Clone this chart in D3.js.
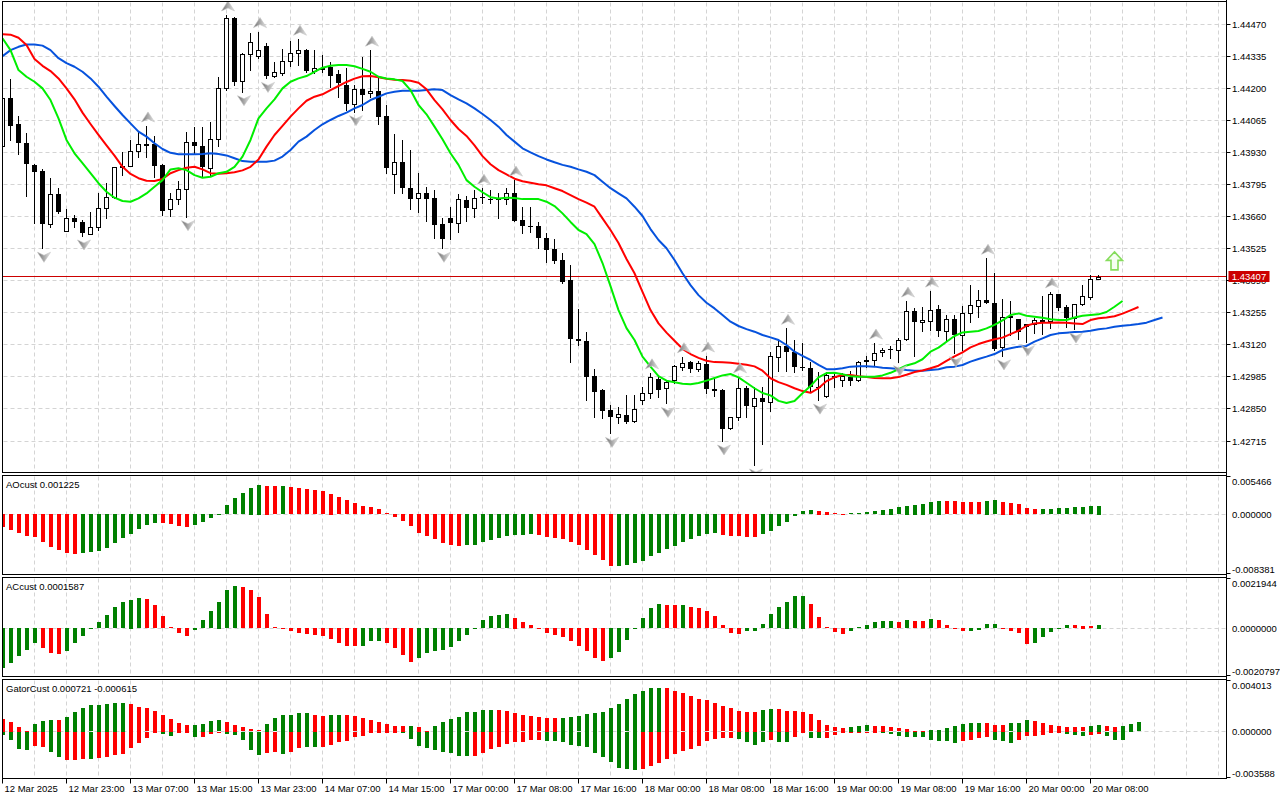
<!DOCTYPE html>
<html>
<head>
<meta charset="utf-8">
<script src="https://cdn.jsdelivr.net/npm/d3@7"></script>
<style>
  body { margin: 0; background: #fff; }
  svg { display: block; }
  text { font-family: "Liberation Sans", Arial, sans-serif; font-size: 9.5px; fill: #000; }
</style>
</head>
<body>
<div id="chart"></div>
<script>
// H1 candles, 12 Mar 2025 15:00 .. 20 Mar 2025, [open, high, low, close]
const ohlc = [
  [1.43956, 1.44167, 1.43952, 1.44158], [1.44157, 1.44238, 1.43982, 1.44042], [1.44048, 1.44084, 1.43923, 1.43968],
  [1.43968, 1.44010, 1.43747, 1.43880], [1.43877, 1.43881, 1.43631, 1.43848], [1.43851, 1.43858, 1.43526, 1.43627],
  [1.43627, 1.43821, 1.43617, 1.43753], [1.43753, 1.43779, 1.43675, 1.43677], [1.43599, 1.43691, 1.43599, 1.43655],
  [1.43652, 1.43666, 1.43617, 1.43635], [1.43635, 1.43645, 1.43578, 1.43589], [1.43588, 1.43677, 1.43586, 1.43617],
  [1.43617, 1.43757, 1.43603, 1.43694], [1.43694, 1.43800, 1.43652, 1.43741], [1.43741, 1.43867, 1.43736, 1.43867],
  [1.43874, 1.43933, 1.43834, 1.43865], [1.43872, 1.43982, 1.43872, 1.43937], [1.43937, 1.44017, 1.43912, 1.43964],
  [1.43961, 1.44041, 1.43912, 1.43965], [1.43964, 1.44000, 1.43827, 1.43874], [1.43877, 1.43881, 1.43666, 1.43683],
  [1.43690, 1.43757, 1.43664, 1.43732], [1.43732, 1.43809, 1.43711, 1.43774], [1.43774, 1.44014, 1.43659, 1.43972],
  [1.43972, 1.44038, 1.43926, 1.43956], [1.43956, 1.44038, 1.43831, 1.43867], [1.43863, 1.44056, 1.43831, 1.43985],
  [1.43985, 1.44248, 1.43956, 1.44199], [1.44199, 1.44508, 1.44192, 1.44494], [1.44494, 1.44501, 1.44213, 1.44227],
  [1.44230, 1.44348, 1.44185, 1.44342], [1.44342, 1.44431, 1.44276, 1.44395], [1.44335, 1.44438, 1.44327, 1.44360],
  [1.44377, 1.44391, 1.44241, 1.44252], [1.44252, 1.44309, 1.44246, 1.44267], [1.44262, 1.44365, 1.44255, 1.44314],
  [1.44314, 1.44398, 1.44294, 1.44349], [1.44347, 1.44406, 1.44297, 1.44360], [1.44360, 1.44365, 1.44269, 1.44272],
  [1.44272, 1.44360, 1.44265, 1.44283], [1.44281, 1.44340, 1.44268, 1.44285], [1.44288, 1.44311, 1.44206, 1.44252],
  [1.44260, 1.44276, 1.44164, 1.44220], [1.44213, 1.44283, 1.44108, 1.44132], [1.44132, 1.44213, 1.44101, 1.44195],
  [1.44195, 1.44332, 1.44108, 1.44171], [1.44181, 1.44360, 1.44164, 1.44188], [1.44188, 1.44241, 1.44049, 1.44080],
  [1.44083, 1.44129, 1.43842, 1.43865], [1.43837, 1.44007, 1.43757, 1.43890], [1.43890, 1.43982, 1.43760, 1.43779],
  [1.43779, 1.43940, 1.43691, 1.43732], [1.43736, 1.43842, 1.43680, 1.43757], [1.43757, 1.43785, 1.43641, 1.43732],
  [1.43736, 1.43771, 1.43568, 1.43624], [1.43627, 1.43652, 1.43526, 1.43565], [1.43652, 1.43701, 1.43565, 1.43631],
  [1.43631, 1.43753, 1.43593, 1.43732], [1.43729, 1.43746, 1.43642, 1.43694], [1.43694, 1.43771, 1.43659, 1.43736],
  [1.43743, 1.43779, 1.43715, 1.43736], [1.43733, 1.43771, 1.43715, 1.43733], [1.43736, 1.43760, 1.43652, 1.43729],
  [1.43732, 1.43781, 1.43712, 1.43757], [1.43757, 1.43813, 1.43642, 1.43642], [1.43645, 1.43701, 1.43589, 1.43621],
  [1.43621, 1.43701, 1.43596, 1.43621], [1.43620, 1.43638, 1.43526, 1.43568], [1.43568, 1.43589, 1.43467, 1.43519],
  [1.43523, 1.43564, 1.43464, 1.43474], [1.43477, 1.43505, 1.43379, 1.43385], [1.43392, 1.43456, 1.43049, 1.43143],
  [1.43144, 1.43270, 1.43119, 1.43136], [1.43136, 1.43172, 1.42887, 1.42985], [1.42988, 1.43017, 1.42815, 1.42922],
  [1.42929, 1.42932, 1.42813, 1.42841], [1.42845, 1.42866, 1.42747, 1.42817], [1.42817, 1.42857, 1.42792, 1.42828],
  [1.42824, 1.42908, 1.42789, 1.42796], [1.42800, 1.42908, 1.42797, 1.42850], [1.42887, 1.42943, 1.42869, 1.42918],
  [1.42916, 1.43002, 1.42897, 1.42985], [1.42975, 1.42985, 1.42901, 1.42929], [1.42937, 1.42972, 1.42873, 1.42964],
  [1.42972, 1.43035, 1.42958, 1.43031], [1.43028, 1.43070, 1.43014, 1.43044], [1.43046, 1.43053, 1.43007, 1.43017],
  [1.43017, 1.43053, 1.43011, 1.43044], [1.43039, 1.43073, 1.42918, 1.42932], [1.42934, 1.42979, 1.42905, 1.42927],
  [1.42929, 1.42932, 1.42715, 1.42765], [1.42768, 1.42817, 1.42765, 1.42815], [1.42815, 1.42985, 1.42803, 1.42937],
  [1.42937, 1.42946, 1.42817, 1.42863], [1.42863, 1.42943, 1.42614, 1.42895], [1.42895, 1.42943, 1.42701, 1.42880],
  [1.42880, 1.43091, 1.42841, 1.43073], [1.43070, 1.43140, 1.43009, 1.43115], [1.43115, 1.43189, 1.43011, 1.43088],
  [1.43088, 1.43140, 1.43007, 1.43025], [1.43028, 1.43129, 1.43014, 1.43021], [1.43023, 1.43049, 1.42922, 1.42943],
  [1.42943, 1.43007, 1.42887, 1.42938], [1.42905, 1.43007, 1.42901, 1.42993], [1.42990, 1.43007, 1.42943, 1.42981],
  [1.42972, 1.43000, 1.42948, 1.42990], [1.42985, 1.43011, 1.42951, 1.42969], [1.42972, 1.43052, 1.42969, 1.43049],
  [1.43056, 1.43074, 1.43028, 1.43049], [1.43056, 1.43127, 1.43035, 1.43086], [1.43088, 1.43108, 1.43073, 1.43098],
  [1.43102, 1.43115, 1.43065, 1.43102], [1.43098, 1.43150, 1.43049, 1.43140], [1.43143, 1.43304, 1.43140, 1.43262],
  [1.43262, 1.43276, 1.43074, 1.43214], [1.43214, 1.43280, 1.43179, 1.43224], [1.43221, 1.43346, 1.43182, 1.43266],
  [1.43270, 1.43287, 1.43157, 1.43179], [1.43179, 1.43245, 1.43137, 1.43227], [1.43227, 1.43245, 1.43086, 1.43161],
  [1.43161, 1.43283, 1.43098, 1.43252], [1.43252, 1.43371, 1.43217, 1.43287], [1.43284, 1.43350, 1.43235, 1.43308],
  [1.43308, 1.43484, 1.43294, 1.43294], [1.43297, 1.43421, 1.43098, 1.43101], [1.43109, 1.43311, 1.43073, 1.43235],
  [1.43241, 1.43305, 1.43161, 1.43231], [1.43227, 1.43227, 1.43144, 1.43175], [1.43206, 1.43206, 1.43133, 1.43196],
  [1.43206, 1.43231, 1.43171, 1.43224], [1.43224, 1.43325, 1.43165, 1.43214], [1.43221, 1.43343, 1.43189, 1.43334],
  [1.43334, 1.43334, 1.43266, 1.43276], [1.43278, 1.43287, 1.43196, 1.43234], [1.43234, 1.43291, 1.43186, 1.43291],
  [1.43291, 1.43371, 1.43287, 1.43325], [1.43322, 1.43414, 1.43311, 1.43395], [1.43395, 1.43414, 1.43395, 1.43407]
]

// Alligator lines (jaw shifted 8 bars, teeth 5, lips 3 into the future)
const jaw = [
  1.44335, 1.44360, 1.44374, 1.44384, 1.44384, 1.44379, 1.44360, 1.44326, 1.44305, 1.44290,
  1.44269, 1.44241, 1.44206, 1.44164, 1.44125, 1.44087, 1.44052, 1.44017, 1.43996, 1.43968,
  1.43944, 1.43928, 1.43922, 1.43922, 1.43922, 1.43923, 1.43926, 1.43923, 1.43917, 1.43905,
  1.43893, 1.43890, 1.43890, 1.43890, 1.43895, 1.43912, 1.43940, 1.43975, 1.43996, 1.44024,
  1.44048, 1.44066, 1.44083, 1.44097, 1.44115, 1.44129, 1.44150, 1.44164, 1.44178, 1.44185,
  1.44189, 1.44189, 1.44189, 1.44192, 1.44195, 1.44192, 1.44171, 1.44153, 1.44136, 1.44115,
  1.44091, 1.44066, 1.44038, 1.44003, 1.43975, 1.43947, 1.43930, 1.43914, 1.43900, 1.43888,
  1.43877, 1.43869, 1.43858, 1.43848, 1.43834, 1.43806, 1.43779, 1.43757, 1.43736, 1.43701,
  1.43662, 1.43607, 1.43561, 1.43526, 1.43477, 1.43421, 1.43371, 1.43329, 1.43297, 1.43273,
  1.43245, 1.43217, 1.43199, 1.43186, 1.43175, 1.43161, 1.43151, 1.43140, 1.43119, 1.43091,
  1.43073, 1.43056, 1.43035, 1.43017, 1.43017, 1.43021, 1.43028, 1.43030, 1.43030, 1.43028,
  1.43023, 1.43021, 1.43018, 1.43014, 1.43011, 1.43011, 1.43014, 1.43017, 1.43025, 1.43028,
  1.43035, 1.43049, 1.43060, 1.43070, 1.43081, 1.43098, 1.43105, 1.43112, 1.43115, 1.43133,
  1.43147, 1.43161, 1.43168, 1.43171, 1.43174, 1.43175, 1.43179, 1.43185, 1.43189, 1.43196,
  1.43200, 1.43203, 1.43207, 1.43213, 1.43224, 1.43235
]
const teeth = [
  1.44427, 1.44425, 1.44412, 1.44382, 1.44323, 1.44294, 1.44272, 1.44241, 1.44199, 1.44153,
  1.44097, 1.44049, 1.44003, 1.43959, 1.43916, 1.43869, 1.43839, 1.43821, 1.43810, 1.43809,
  1.43818, 1.43842, 1.43855, 1.43865, 1.43869, 1.43858, 1.43842, 1.43840, 1.43842, 1.43846,
  1.43854, 1.43869, 1.43900, 1.43954, 1.44003, 1.44041, 1.44080, 1.44115, 1.44147, 1.44164,
  1.44174, 1.44192, 1.44209, 1.44226, 1.44240, 1.44250, 1.44251, 1.44246, 1.44240, 1.44235,
  1.44234, 1.44231, 1.44223, 1.44195, 1.44150, 1.44111, 1.44066, 1.44028, 1.43999, 1.43959,
  1.43914, 1.43880, 1.43855, 1.43837, 1.43819, 1.43808, 1.43802, 1.43796, 1.43791, 1.43779,
  1.43767, 1.43750, 1.43733, 1.43718, 1.43701, 1.43652, 1.43603, 1.43548, 1.43481, 1.43421,
  1.43343, 1.43266, 1.43210, 1.43171, 1.43137, 1.43103, 1.43081, 1.43065, 1.43053, 1.43047,
  1.43046, 1.43044, 1.43040, 1.43036, 1.43029, 1.43011, 1.42979, 1.42963, 1.42951, 1.42937,
  1.42925, 1.42918, 1.42937, 1.42967, 1.42983, 1.42993, 1.42993, 1.42988, 1.42984, 1.42980,
  1.42979, 1.42979, 1.42984, 1.42994, 1.43005, 1.43012, 1.43021, 1.43032, 1.43052, 1.43071,
  1.43088, 1.43109, 1.43123, 1.43134, 1.43143, 1.43150, 1.43165, 1.43179, 1.43200, 1.43210,
  1.43213, 1.43213, 1.43214, 1.43213, 1.43210, 1.43207, 1.43224, 1.43232, 1.43235, 1.43240,
  1.43251, 1.43265, 1.43279
]
const lips = [
  1.44410, 1.44360, 1.44276, 1.44248, 1.44227, 1.44199, 1.44150, 1.44073, 1.43982, 1.43926,
  1.43884, 1.43842, 1.43800, 1.43764, 1.43739, 1.43725, 1.43722, 1.43736, 1.43757, 1.43785,
  1.43813, 1.43858, 1.43863, 1.43855, 1.43834, 1.43823, 1.43827, 1.43842, 1.43848, 1.43869,
  1.43912, 1.43982, 1.44073, 1.44115, 1.44153, 1.44199, 1.44227, 1.44241, 1.44251, 1.44269,
  1.44286, 1.44294, 1.44297, 1.44297, 1.44292, 1.44281, 1.44269, 1.44248, 1.44241, 1.44237,
  1.44230, 1.44192, 1.44129, 1.44090, 1.44038, 1.43985, 1.43926, 1.43877, 1.43813, 1.43785,
  1.43762, 1.43741, 1.43736, 1.43739, 1.43738, 1.43733, 1.43733, 1.43733, 1.43722, 1.43704,
  1.43673, 1.43637, 1.43603, 1.43586, 1.43544, 1.43464, 1.43367, 1.43266, 1.43190, 1.43140,
  1.43070, 1.43028, 1.42988, 1.42969, 1.42962, 1.42956, 1.42954, 1.42959, 1.42969, 1.42980,
  1.42991, 1.42997, 1.42983, 1.42960, 1.42937, 1.42917, 1.42907, 1.42884, 1.42875, 1.42883,
  1.42916, 1.42946, 1.42983, 1.43001, 1.43002, 1.42996, 1.42988, 1.42985, 1.42985, 1.42985,
  1.42991, 1.43002, 1.43017, 1.43033, 1.43042, 1.43059, 1.43091, 1.43108, 1.43133, 1.43157,
  1.43172, 1.43175, 1.43178, 1.43189, 1.43204, 1.43223, 1.43245, 1.43252, 1.43242, 1.43238,
  1.43234, 1.43227, 1.43224, 1.43224, 1.43235, 1.43242, 1.43245, 1.43248, 1.43258, 1.43280,
  1.43304
]

// bar indices carrying a fractal arrow
const fractalUp = [18, 28, 32, 37, 46, 60, 64, 81, 85, 88, 92, 98, 109, 113, 116, 123, 131]
const fractalDown = [5, 10, 23, 30, 33, 44, 55, 76, 83, 90, 94, 102, 112, 119, 125, 128, 134]
const signalUp = [{ index: 139, price: 1.43435 }]
const lastPrice = 1.43407

const ao = [
  -0.001814, -0.002285, -0.002713, -0.003099, -0.003242, -0.003956, -0.004670, -0.005098, -0.005569, -0.005669,
  -0.005612, -0.005469, -0.005241, -0.004812, -0.004098, -0.003384, -0.002813, -0.002099, -0.001528, -0.001242,
  -0.001285, -0.001428, -0.001671, -0.001814, -0.001528, -0.001100, -0.000528, 0.000100, 0.001285, 0.002328,
  0.002999, 0.003813, 0.004241, 0.004098, 0.003998, 0.004027, 0.003856, 0.003713, 0.003570, 0.003470,
  0.003284, 0.002956, 0.002470, 0.002042, 0.001614, 0.001185, 0.001042, 0.000757, 0.000143, -0.000386,
  -0.001042, -0.001756, -0.002670, -0.003099, -0.003570, -0.004141, -0.004427, -0.004527, -0.004470, -0.004384,
  -0.003956, -0.003670, -0.003384, -0.003142, -0.003042, -0.002956, -0.002856, -0.002999, -0.003242, -0.003384,
  -0.003527, -0.003956, -0.004427, -0.005141, -0.005812, -0.006526, -0.007468, -0.007383, -0.007326, -0.007040,
  -0.006669, -0.005955, -0.005569, -0.004998, -0.004527, -0.003956, -0.003527, -0.003142, -0.002856, -0.002713,
  -0.002999, -0.003142, -0.003184, -0.003242, -0.003284, -0.002899, -0.002385, -0.001671, -0.001100, -0.000243,
  0.000471, 0.000571, 0.000528, 0.000386, 0.000214, 0.000100, 0.000129, 0.000186, 0.000286, 0.000471,
  0.000671, 0.000814, 0.001000, 0.001242, 0.001385, 0.001528, 0.001756, 0.001956, 0.001899, 0.001871,
  0.001756, 0.001714, 0.001685, 0.001956, 0.001999, 0.001814, 0.001671, 0.001428, 0.000857, 0.000757,
  0.000771, 0.000785, 0.000857, 0.000900, 0.001000, 0.001028, 0.001142, 0.001225
]
const ac = [
  -0.001732, -0.001529, -0.001220, -0.000956, -0.000648, -0.000868, -0.001088, -0.001132, -0.001000, -0.000674,
  -0.000339, -0.000031, 0.000264, 0.000573, 0.000925, 0.001146, 0.001247, 0.001322, 0.001265, 0.001013,
  0.000529, 0.000044, -0.000234, -0.000339, -0.000075, 0.000366, 0.000749, 0.001159, 0.001674, 0.001851,
  0.001806, 0.001674, 0.001366, 0.000617, 0.000044, -0.000057, -0.000145, -0.000234, -0.000278, -0.000295,
  -0.000339, -0.000471, -0.000674, -0.000780, -0.000806, -0.000780, -0.000586, -0.000560, -0.000674, -0.000894,
  -0.001176, -0.001467, -0.001309, -0.001102, -0.001000, -0.000969, -0.000824, -0.000586, -0.000308, -0.000031,
  0.000352, 0.000542, 0.000586, 0.000617, 0.000471, 0.000278, 0.000132, 0.000031, -0.000207, -0.000295,
  -0.000383, -0.000586, -0.000793, -0.001000, -0.001309, -0.001441, -0.001309, -0.001057, -0.000516, -0.000031,
  0.000441, 0.000881, 0.001057, 0.001013, 0.001005, 0.001022, 0.000925, 0.000881, 0.000749, 0.000529,
  0.000132, -0.000207, -0.000264, -0.000145, -0.000119, 0.000176, 0.000617, 0.000925, 0.001159, 0.001410,
  0.001419, 0.001057, 0.000485, 0.000044, -0.000189, -0.000264, -0.000119, 0.000044, 0.000163, 0.000264,
  0.000308, 0.000317, 0.000278, 0.000352, 0.000308, 0.000300, 0.000397, 0.000352, 0.000145, -0.000031,
  -0.000145, -0.000141, -0.000075, 0.000176, 0.000185, 0.000031, -0.000145, -0.000234, -0.000705, -0.000661,
  -0.000410, -0.000163, -0.000031, 0.000132, 0.000128, 0.000119, 0.000088, 0.0001587
]
const gatorUp = [
  0.000986, 0.000776, 0.000365, 0.000078, 0.000621, 0.000830, 0.000908, 0.000900, 0.001164, 0.001552,
  0.001839, 0.002041, 0.002072, 0.002173, 0.002227, 0.002235, 0.002173, 0.001940, 0.001808, 0.001606,
  0.001319, 0.001009, 0.000675, 0.000520, 0.000528, 0.000621, 0.000854, 0.000877, 0.000776, 0.000520,
  0.000334, 0.000178, 0.000101, 0.000621, 0.001032, 0.001319, 0.001327, 0.001474, 0.001482, 0.001319,
  0.001242, 0.001296, 0.001319, 0.001311, 0.001187, 0.001063, 0.000908, 0.000753, 0.000621, 0.000442,
  0.000435, 0.000442, 0.000388, 0.000078, 0.000442, 0.000776, 0.001009, 0.001164, 0.001498, 0.001552,
  0.001707, 0.001715, 0.001707, 0.001606, 0.001451, 0.001265, 0.001218, 0.001110, 0.001063, 0.001055,
  0.001063, 0.001141, 0.001187, 0.001374, 0.001474, 0.001529, 0.001839, 0.002150, 0.002506, 0.002926,
  0.003158, 0.003391, 0.003399, 0.003391, 0.003158, 0.002972, 0.002770, 0.002561, 0.002429, 0.002227,
  0.001963, 0.001808, 0.001606, 0.001529, 0.001521, 0.001653, 0.001762, 0.001754, 0.001606, 0.001599,
  0.001529, 0.001342, 0.000908, 0.000489, 0.000334, 0.000287, 0.000365, 0.000442, 0.000489, 0.000481,
  0.000442, 0.000334, 0.000256, 0.000210, 0.000078, 0.000070, 0.000132, 0.000155, 0.000287, 0.000442,
  0.000598, 0.000675, 0.000683, 0.000675, 0.000520, 0.000512, 0.000644, 0.000698, 0.000908, 0.000854,
  0.000698, 0.000543, 0.000442, 0.000365, 0.000357, 0.000334, 0.000442, 0.000520, 0.000411, 0.000365,
  0.000466, 0.000598, 0.000721
]
const gatorDown = [
  -0.000233, -0.000621, -0.001319, -0.001397, -0.001086, -0.001187, -0.001552, -0.001940, -0.002173, -0.002173,
  -0.002095, -0.002095, -0.002041, -0.001940, -0.001785, -0.001684, -0.001265, -0.000854, -0.000489, -0.000023,
  -0.000155, -0.000310, -0.000101, -0.000054, -0.000388, -0.000388, -0.000132, -0.000054, -0.000132, -0.000233,
  -0.000621, -0.001397, -0.001785, -0.001630, -0.001575, -0.001707, -0.001552, -0.001242, -0.001187, -0.001187,
  -0.001164, -0.001009, -0.000776, -0.000675, -0.000411, -0.000287, -0.000101, -0.000101, -0.000078, -0.000054,
  -0.000101, -0.000543, -0.001086, -0.001265, -0.001420, -0.001552, -0.001653, -0.001862, -0.001862, -0.001862,
  -0.001606, -0.001342, -0.001187, -0.000931, -0.000776, -0.000776, -0.000621, -0.000598, -0.000698, -0.000698,
  -0.000799, -0.001009, -0.001086, -0.001187, -0.001653, -0.001963, -0.002351, -0.002817, -0.002848, -0.002949,
  -0.002871, -0.002662, -0.002429, -0.002118, -0.001730, -0.001451, -0.001342, -0.001110, -0.000698, -0.000566,
  -0.000489, -0.000489, -0.000566, -0.000776, -0.001009, -0.000799, -0.000644, -0.000776, -0.000776, -0.000388,
  -0.000039, -0.000442, -0.000466, -0.000466, -0.000233, -0.000054, -0.000054, -0.000078, -0.000054, -0.000023,
  -0.000078, -0.000155, -0.000310, -0.000388, -0.000388, -0.000388, -0.000621, -0.000698, -0.000698, -0.000854,
  -0.000698, -0.000621, -0.000489, -0.000411, -0.000644, -0.000675, -0.000830, -0.000644, -0.000310, -0.000287,
  -0.000233, -0.000101, -0.000078, -0.000155, -0.000233, -0.000334, -0.000233, -0.000132, -0.000310, -0.000621,
  -0.000615
]
// colour runs of the gator histogram: [count, 'g' | 'r']
const gatorUpRuns = [
  [4, 'r'], [3, 'g'], [1, 'r'], [8, 'g'], [8, 'r'], [4, 'g'], [5, 'r'], [6, 'g'], [2, 'r'], [2, 'g'],
  [8, 'r'], [1, 'g'], [2, 'r'], [8, 'g'], [8, 'r'], [13, 'g'], [12, 'r'], [2, 'g'], [9, 'r'], [3, 'g'],
  [7, 'r'], [7, 'g'], [3, 'r'], [3, 'g'], [7, 'r'], [2, 'g'], [2, 'r'], [3, 'g']
]
const gatorDownRuns = [
  [4, 'g'], [2, 'r'], [2, 'g'], [3, 'r'], [1, 'g'], [8, 'r'], [2, 'g'], [2, 'r'], [1, 'g'], [3, 'r'],
  [5, 'g'], [2, 'r'], [1, 'g'], [2, 'r'], [2, 'g'], [10, 'r'], [9, 'g'], [9, 'r'], [12, 'g'], [12, 'r'],
  [4, 'g'], [1, 'r'], [2, 'g'], [2, 'r'], [2, 'g'], [7, 'r'], [10, 'g'], [4, 'r'], [3, 'g'], [6, 'r'],
  [3, 'g'], [2, 'r'], [3, 'g']
]

const priceTicks = [1.44470, 1.44335, 1.44200, 1.44065, 1.43930, 1.43795, 1.43660, 1.43525,
  1.43390, 1.43255, 1.43120, 1.42985, 1.42850, 1.42715]
const timeTickIndex = [0, 8, 16, 24, 32, 40, 48, 56, 64, 72, 80, 88, 96, 104, 112, 120, 128, 136]
const timeTickLabels = ['12 Mar 2025', '12 Mar 23:00', '13 Mar 07:00', '13 Mar 15:00', '13 Mar 23:00',
  '14 Mar 07:00', '14 Mar 15:00', '17 Mar 00:00', '17 Mar 08:00', '17 Mar 16:00', '18 Mar 00:00',
  '18 Mar 08:00', '18 Mar 16:00', '19 Mar 00:00', '19 Mar 08:00', '19 Mar 16:00', '20 Mar 00:00', '20 Mar 08:00']

const GREEN = '#008000'
const RED = '#ff0000'
const GRID = '#d4d4d4'

const width = 1280
const height = 800
const left = 2.5
const right = 1226.5

const panels = {
  main: { top: 1.5, bottom: 472.5 },
  ao: { top: 475.5, bottom: 574.5 },
  ac: { top: 577.5, bottom: 676.5 },
  gator: { top: 679.5, bottom: 778.5 }
}

// one bar = 8px, bar 0 sits on the left border
const x = d3.scaleLinear().domain([0, 1]).range([2.5, 10.5])
const yMain = d3.scaleLinear().domain([1.42715, 1.44470]).range([441, 24])
const yAO = d3.scaleLinear().domain([-0.008381, 0.005466]).range([573, 476])
const yAC = d3.scaleLinear().domain([-0.0020797, 0.0021944]).range([676, 578])
const yGator = d3.scaleLinear().domain([-0.003588, 0.004013]).range([778, 680])

const crisp = v => Math.round(v - 0.5) + 0.5
const expandRuns = runs => runs.flatMap(([n, c]) => Array(n).fill(c))
// AO / AC: green when the bar is above the previous one
const risingColors = (values, first) => values.map((v, i) => i === 0 ? first : (v > values[i - 1] ? 'g' : 'r'))

const svg = d3.select('#chart').append('svg')
  .attr('width', width)
  .attr('height', height)
  .attr('viewBox', [0, 0, width, height].join(' '))

svg.append('rect').attr('width', width).attr('height', height).attr('fill', '#fff')

const defs = svg.append('defs')
Object.entries(panels).forEach(([key, p]) => {
  defs.append('clipPath').attr('id', `clip-${key}`)
    .append('rect')
    .attr('x', left + 0.5).attr('y', p.top + 0.5)
    .attr('width', right - left - 1).attr('height', p.bottom - p.top - 1)
})
const grad = defs.append('linearGradient').attr('id', 'fractal-fill')
grad.append('stop').attr('offset', '0%').attr('stop-color', '#6f6f6f')
grad.append('stop').attr('offset', '50%').attr('stop-color', '#a9a9a9')
grad.append('stop').attr('offset', '100%').attr('stop-color', '#e6e6e6')

// vertical grid in every panel
const gridX = d3.range(4, 153, 4).map(i => x(i)).filter(v => v < right - 2)
Object.values(panels).forEach(p => {
  svg.append('g')
    .selectAll('line')
    .data(gridX)
    .join('line')
    .attr('x1', d => d).attr('x2', d => d)
    .attr('y1', p.top + 1).attr('y2', p.bottom)
    .attr('stroke', GRID)
    .attr('stroke-dasharray', '4,3')
})

// horizontal grid of the price panel
svg.append('g')
  .selectAll('line')
  .data(priceTicks)
  .join('line')
  .attr('x1', left + 1).attr('x2', right)
  .attr('y1', d => crisp(yMain(d))).attr('y2', d => crisp(yMain(d)))
  .attr('stroke', GRID)
  .attr('stroke-dasharray', '4,3')

// ---------- price panel ----------
const main = svg.append('g').attr('clip-path', 'url(#clip-main)')

main.append('line')
  .attr('x1', left).attr('x2', right)
  .attr('y1', crisp(yMain(lastPrice))).attr('y2', crisp(yMain(lastPrice)))
  .attr('stroke', '#cc0000')

main.append('g')
  .selectAll('line')
  .data(ohlc)
  .join('line')
  .attr('x1', (d, i) => x(i)).attr('x2', (d, i) => x(i))
  .attr('y1', d => Math.round(yMain(d[1]))).attr('y2', d => Math.round(yMain(d[2])) + 1)
  .attr('stroke', '#000')

main.append('g')
  .selectAll('rect')
  .data(ohlc)
  .join('rect')
  .each(function (d, i) {
    const [o, , , c] = d
    const top = Math.round(yMain(Math.max(o, c)))
    const bottom = Math.round(yMain(Math.min(o, c)))
    const body = d3.select(this)
    if (c > o) {
      body.attr('x', x(i) - 2).attr('y', top + 0.5)
        .attr('width', 4).attr('height', Math.max(bottom - top, 1))
        .attr('fill', '#fff').attr('stroke', '#000')
    } else {
      body.attr('x', x(i) - 2.5).attr('y', top)
        .attr('width', 5).attr('height', Math.max(bottom - top, 1))
        .attr('fill', '#000')
    }
  })

const alligator = [
  { values: jaw, color: '#0652dd' },
  { values: teeth, color: '#ff0000' },
  { values: lips, color: '#00ee00' }
]
const priceLine = d3.line().x((d, i) => x(i)).y(d => yMain(d))
main.append('g')
  .selectAll('path')
  .data(alligator)
  .join('path')
  .attr('d', d => priceLine(d.values))
  .attr('fill', 'none')
  .attr('stroke', d => d.color)
  .attr('stroke-width', 2)
  .attr('stroke-linejoin', 'round')

main.append('g')
  .selectAll('path')
  .data(fractalUp)
  .join('path')
  .attr('transform', i => `translate(${x(i) + 1.5},${yMain(ohlc[i][1]) - 9})`)
  .attr('d', 'M0,-5L6.5,5L0,2L-6.5,5Z')
  .attr('fill', 'url(#fractal-fill)')
  .attr('stroke', '#c4c4c4')
  .attr('stroke-width', 0.6)

main.append('g')
  .selectAll('path')
  .data(fractalDown)
  .join('path')
  .attr('transform', i => `translate(${x(i) + 1.5},${yMain(ohlc[i][2]) + 9})`)
  .attr('d', 'M0,5L6.5,-5L0,-2L-6.5,-5Z')
  .attr('fill', 'url(#fractal-fill)')
  .attr('stroke', '#c4c4c4')
  .attr('stroke-width', 0.6)

main.append('g')
  .selectAll('path')
  .data(signalUp)
  .join('path')
  .attr('transform', d => `translate(${x(d.index)},${yMain(d.price)})`)
  .attr('d', 'M0,-18L8,-9.5L3.5,-9.5L3.5,0L-3.5,0L-3.5,-9.5L-8,-9.5Z')
  .attr('fill', '#f6fff2')
  .attr('stroke', '#86dd5c')
  .attr('stroke-width', 1.6)
  .attr('stroke-linejoin', 'miter')

// ---------- indicator panels ----------
function histogram(key, scale, series) {
  const g = svg.append('g').attr('clip-path', `url(#clip-${key})`)
  const zero = scale(0)
  g.append('line')
    .attr('x1', left + 1).attr('x2', right)
    .attr('y1', crisp(zero)).attr('y2', crisp(zero))
    .attr('stroke', GRID)
    .attr('stroke-dasharray', '4,3')
  series.forEach(({ values, colors }) => {
    g.append('g')
      .selectAll('rect')
      .data(values)
      .join('rect')
      .attr('x', (d, i) => x(i) - 1.5)
      .attr('width', 4)
      .attr('y', d => Math.round(Math.min(scale(d), zero)))
      .attr('height', d => Math.max(1, Math.round(Math.abs(scale(d) - zero))))
      .attr('fill', (d, i) => colors[i] === 'g' ? GREEN : RED)
  })
}

histogram('ao', yAO, [{ values: ao, colors: risingColors(ao, 'r') }])
histogram('ac', yAC, [{ values: ac, colors: risingColors(ac, 'g') }])
histogram('gator', yGator, [
  { values: gatorUp, colors: expandRuns(gatorUpRuns) },
  { values: gatorDown, colors: expandRuns(gatorDownRuns) }
])

// ---------- frames ----------
Object.values(panels).forEach(p => {
  svg.append('rect')
    .attr('x', left).attr('y', p.top)
    .attr('width', right - left).attr('height', p.bottom - p.top)
    .attr('fill', 'none')
    .attr('stroke', '#000')
})
svg.append('line')
  .attr('x1', right).attr('x2', right)
  .attr('y1', 0).attr('y2', panels.gator.bottom)
  .attr('stroke', '#000')

// ---------- price axis ----------
const priceAxis = svg.append('g')
priceAxis.selectAll('line')
  .data(priceTicks)
  .join('line')
  .attr('x1', right).attr('x2', right + 4)
  .attr('y1', d => crisp(yMain(d))).attr('y2', d => crisp(yMain(d)))
  .attr('stroke', '#000')
priceAxis.selectAll('text')
  .data(priceTicks)
  .join('text')
  .attr('x', 1232)
  .attr('y', d => yMain(d) + 3.5)
  .text(d => d.toFixed(5))

const lastY = crisp(yMain(lastPrice))
svg.append('rect')
  .attr('x', 1228.5).attr('y', lastY - 5.5)
  .attr('width', 41).attr('height', 11)
  .attr('fill', '#cc0000')
svg.append('text')
  .attr('x', 1249).attr('y', lastY + 3.5)
  .attr('text-anchor', 'middle')
  .style('fill', '#fff')
  .text(lastPrice.toFixed(5))

// ---------- indicator titles and scales ----------
const subPanels = [
  { p: panels.ao, scale: yAO, digits: 6, title: `AOcust ${ao[ao.length - 1].toFixed(6)}` },
  { p: panels.ac, scale: yAC, digits: 7, title: `ACcust ${ac[ac.length - 1].toFixed(7)}` },
  { p: panels.gator, scale: yGator, digits: 6,
    title: `GatorCust ${gatorUp[gatorUp.length - 1].toFixed(6)} ${gatorDown[gatorDown.length - 1].toFixed(6)}` }
]
subPanels.forEach(({ p, scale, digits, title }) => {
  const [lo, hi] = scale.domain()
  svg.append('text').attr('x', 6).attr('y', p.top + 12.5).text(title)
  const labels = [
    { v: hi, y: p.top + 9.5 },
    { v: 0, y: scale(0) + 3.5 },
    { v: lo, y: p.bottom - 1.5 }
  ]
  svg.append('g')
    .selectAll('text')
    .data(labels)
    .join('text')
    .attr('x', 1232)
    .attr('y', d => d.y)
    .text(d => d.v.toFixed(digits))
  svg.append('g')
    .selectAll('line')
    .data([p.top + 1, p.bottom - 1])
    .join('line')
    .attr('x1', right).attr('x2', right + 4)
    .attr('y1', d => crisp(d)).attr('y2', d => crisp(d))
    .attr('stroke', '#000')
})

// ---------- time axis ----------
const timeAxis = svg.append('g')
timeAxis.selectAll('line')
  .data(timeTickIndex)
  .join('line')
  .attr('x1', i => x(i)).attr('x2', i => x(i))
  .attr('y1', panels.gator.bottom).attr('y2', panels.gator.bottom + 5)
  .attr('stroke', '#000')
timeAxis.selectAll('text')
  .data(timeTickIndex)
  .join('text')
  .attr('x', i => x(i) + 2)
  .attr('y', 792)
  .text((i, k) => timeTickLabels[k])
</script>
</body>
</html>
